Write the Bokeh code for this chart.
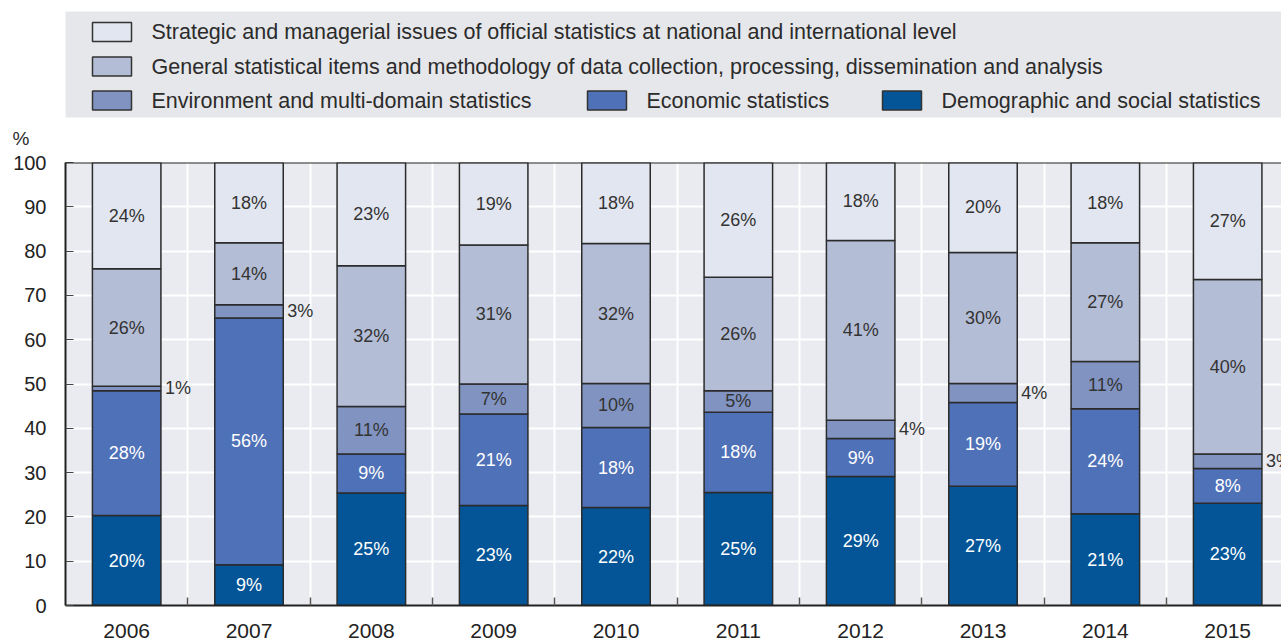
from bokeh.plotting import figure
from bokeh.models import Range1d, FixedTicker, Span, ColumnDataSource
from bokeh.layouts import column
from bokeh.core.properties import value
from bokeh.embed import file_html
from bokeh.resources import INLINE

# ---------------- data ----------------
years = ["2006", "2007", "2008", "2009", "2010", "2011", "2012", "2013", "2014", "2015"]
demographic = [20.3, 9.2, 25.4, 22.6, 22.1, 25.5, 29.1, 26.9, 20.7, 23.1]
economic = [28.2, 55.7, 8.8, 20.6, 18.1, 18.1, 8.6, 18.9, 23.7, 7.8]
environment = [1.0, 3.0, 10.7, 6.8, 9.9, 4.9, 4.1, 4.3, 10.7, 3.3]
general = [26.5, 14.0, 31.8, 31.4, 31.6, 25.6, 40.6, 29.6, 26.8, 39.4]
strategic = [24.0, 18.1, 23.3, 18.6, 18.3, 25.9, 17.6, 20.3, 18.1, 26.4]

demographic_lbl = [20, 9, 25, 23, 22, 25, 29, 27, 21, 23]
economic_lbl = [28, 56, 9, 21, 18, 18, 9, 19, 24, 8]
environment_lbl = [1, 3, 11, 7, 10, 5, 4, 4, 11, 3]
general_lbl = [26, 14, 32, 31, 32, 26, 41, 30, 27, 40]
strategic_lbl = [24, 18, 23, 19, 18, 26, 18, 20, 18, 27]

series_names = [
    "Demographic and social statistics",
    "Economic statistics",
    "Environment and multi-domain statistics",
    "General statistical items and methodology of data collection, processing, dissemination and analysis",
    "Strategic and managerial issues of official statistics at national and international level",
]
series_values = [demographic, economic, environment, general, strategic]
series_labels = [demographic_lbl, economic_lbl, environment_lbl, general_lbl, strategic_lbl]
colors = ["#035597", "#4f71b7", "#8193c1", "#b3bdd6", "#e2e6f0"]
label_colors = ["#ffffff", "#ffffff", "#333333", "#333333", "#333333"]

FONT_NAME = "Liberation Sans"
FONT = value(FONT_NAME)
EDGE = "#2b2b2b"
BAR_W = 0.56

# ---------------- legend panel ----------------
leg = figure(width=1281, height=150, x_range=Range1d(0, 1281), y_range=Range1d(150, 0),
             toolbar_location=None, output_backend="svg", min_border=0,
             min_border_left=0, min_border_right=0, min_border_top=0, min_border_bottom=0)
leg.frame_align = False
leg.axis.visible = False
leg.grid.visible = False
leg.outline_line_color = None
leg.background_fill_color = "white"
leg.quad(left=[65], right=[1281], top=[11], bottom=[117], fill_color="#e6e7ea", line_color=None)

leg_x = [111.5, 111.5, 111.5, 606.5, 901.5]
leg_y = [31.5, 66, 100, 100, 100]
order = [4, 3, 2, 1, 0]
leg.rect(x=leg_x, y=leg_y, width=39, height=19,
         fill_color=[colors[k] for k in order], line_color="#333333", line_width=1.5)
leg.text(x=[xx + 39.5 for xx in leg_x], y=leg_y, text=[series_names[k] for k in order],
         text_font=FONT, text_font_size="21.5px", text_color="#2b2b2b",
         text_baseline="middle", text_align="left")
leg.text(x=[12], y=[138], text=["%"], text_font=FONT, text_font_size="19px",
         text_color="#2b2b2b", text_baseline="middle", text_align="left")

# ---------------- main chart ----------------
n = len(years)
xs = list(range(n))
p = figure(width=1281, height=492, x_range=Range1d(-0.5, 9.44), y_range=Range1d(0, 100),
           toolbar_location=None, output_backend="svg",
           min_border_left=65, min_border_right=0, min_border_top=12, min_border_bottom=37)
p.frame_align = False
p.background_fill_color = "#e9ebf0"
p.border_fill_color = "white"
p.outline_line_color = None

p.xgrid.ticker = FixedTicker(ticks=[i + 0.5 for i in range(n)])
p.ygrid.ticker = FixedTicker(ticks=list(range(0, 101, 10)))
p.grid.grid_line_color = "white"
p.grid.grid_line_width = 2

bottoms = [0.0] * n
for vals, lbls, col, tcol in zip(series_values, series_labels, colors, label_colors):
    tops = [b + v for b, v in zip(bottoms, vals)]
    p.vbar(x=xs, bottom=bottoms, top=tops, width=BAR_W, fill_color=col,
           line_color=EDGE, line_width=1.5)
    inside = dict(x=[], y=[], t=[])
    outside = dict(x=[], y=[], t=[])
    for i in range(n):
        mid = (bottoms[i] + tops[i]) / 2
        if vals[i] < 4.5:
            outside["x"].append(xs[i] + BAR_W / 2)
            outside["y"].append(mid)
            outside["t"].append(f"{lbls[i]}%")
        else:
            inside["x"].append(xs[i])
            inside["y"].append(mid)
            inside["t"].append(f"{lbls[i]}%")
    if inside["x"]:
        p.text(x="x", y="y", text="t", source=ColumnDataSource(inside), text_font=FONT,
               text_font_size="18px", text_color=tcol, text_align="center",
               text_baseline="middle")
    if outside["x"]:
        p.text(x="x", y="y", text="t", source=ColumnDataSource(outside), text_font=FONT,
               text_font_size="18px", text_color="#333333", text_align="left",
               text_baseline="middle", x_offset=4)
    bottoms = tops

p.add_layout(Span(location=100, dimension="width", line_color=EDGE, line_width=2))

# y axis
p.yaxis.ticker = FixedTicker(ticks=list(range(0, 101, 10)))
p.yaxis.axis_line_color = "#222222"
p.yaxis.axis_line_width = 2
p.yaxis.major_tick_in = 8
p.yaxis.major_tick_out = 0
p.yaxis.major_tick_line_color = "#444444"
p.yaxis.minor_tick_line_color = None
p.yaxis.major_label_standoff = 19
p.yaxis.major_label_text_font = FONT_NAME
p.yaxis.major_label_text_font_size = "20px"
p.yaxis.major_label_text_color = "#222222"

# x axis
p.xaxis.ticker = FixedTicker(ticks=xs, minor_ticks=[i + 0.5 for i in range(n)])
p.xaxis.major_label_overrides = {i: y for i, y in enumerate(years)}
p.xaxis.axis_line_color = "#222222"
p.xaxis.axis_line_width = 2
p.xaxis.major_tick_line_color = None
p.xaxis.minor_tick_in = 8
p.xaxis.minor_tick_out = 0
p.xaxis.minor_tick_line_color = "#555555"
p.xaxis.minor_tick_line_width = 1.5
p.xaxis.major_label_standoff = 12
p.xaxis.major_label_text_font = FONT_NAME
p.xaxis.major_label_text_font_size = "21px"
p.xaxis.major_label_text_color = "#222222"

layout = column(leg, p, spacing=0)
open("out.html", "w").write(file_html(layout, INLINE))
